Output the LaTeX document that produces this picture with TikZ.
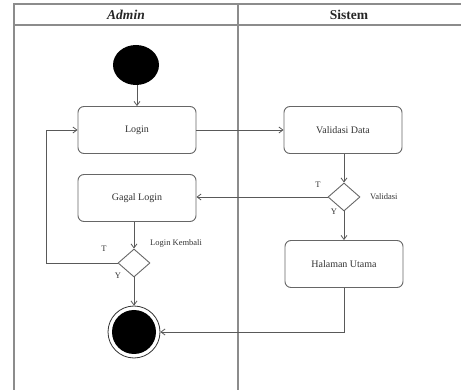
\documentclass[tikz,border=0pt]{standalone}
\usepackage{fontspec}
\setmainfont{Liberation Serif}
\usetikzlibrary{arrows.meta,shapes.geometric}
\begin{document}
\begin{tikzpicture}[x=1pt,y=-1pt,
  lane/.style={draw=black!45,line width=1.6pt},
  act/.style={draw=black!60,line width=0.9pt,rounded corners=6pt,fill=white,
    minimum width=118pt,minimum height=47pt,inner sep=0pt,font=\fontsize{10}{12}\selectfont,text=black!80},
  dec/.style={draw=black!60,line width=0.9pt,diamond,aspect=1.15,fill=white,
    minimum width=32pt,minimum height=28pt,inner sep=0pt},
  flow/.style={draw=black!65,line width=0.8pt,-{Straight Barb[length=4pt,width=6pt]}},
  lbl/.style={font=\fontsize{8.5}{10}\selectfont,text=black!80,inner sep=0pt}]
\useasboundingbox (0,0) rectangle (461,390);
% swimlanes
\draw[lane] (461,4) -- (14,4) -- (14,390);
\draw[lane] (14,25) -- (461,25);
\draw[lane] (238,4) -- (238,390);
\node[font=\fontsize{13.5}{15}\selectfont\bfseries\itshape,text=black!85] (hA) at (126,15) {Admin};
\node[font=\fontsize{13.5}{15}\selectfont\bfseries,text=black!85] (hS) at (349,15) {Sistem};
% nodes
\node[ellipse,fill=black,minimum width=46pt,minimum height=40pt,inner sep=0pt] (start) at (136,65) {};
\node[act] (login) at (137,130) {Login};
\node[act] (gagal) at (137,198) {Gagal Login};
\node[act] (valdata) at (343,130) {Validasi Data};
\node[dec] (dval) at (344,197) {};
\node[act] (home) at (344,264) {Halaman Utama};
\node[dec] (dlog) at (134,263) {};
\node[circle,draw=black!80,line width=0.8pt,fill=white,minimum size=52pt,inner sep=0pt] (end) at (134,332) {};
\node[circle,fill=black,minimum size=44pt,inner sep=0pt] (endin) at (end) {};
\coordinate (loopL) at (46,263);
\coordinate (loopT) at (46,130);
\coordinate (homeC) at (344,332);
% labels
\node[lbl,anchor=west] (lv) at (370,197) {Validasi};
\node[lbl] (lvT) at (318,185) {T};
\node[lbl] (lvY) at (334,212) {Y};
\node[lbl,anchor=west] (lk) at (150,243) {Login Kembali};
\node[lbl] (lkT) at (104,249) {T};
\node[lbl] (lkY) at (118,276) {Y};
% flows
\draw[flow] (start.south -| login.north) -- (login.north);
\draw[flow] (login) -- (valdata);
\draw[flow] (valdata.south -| dval.north) -- (dval.north);
\draw[flow] (dval.west) -- (dval.west -| gagal.east);
\draw[flow] (dval) -- (home);
\draw[flow] (gagal.south -| dlog.north) -- (dlog.north);
\draw[flow] (dlog) -- (end);
\draw[flow] (dlog.west) -- (loopL) -- (loopT) -- (login.west);
\draw[flow] (home.south) -- (homeC) -- (end.east);
\end{tikzpicture}
\end{document}
